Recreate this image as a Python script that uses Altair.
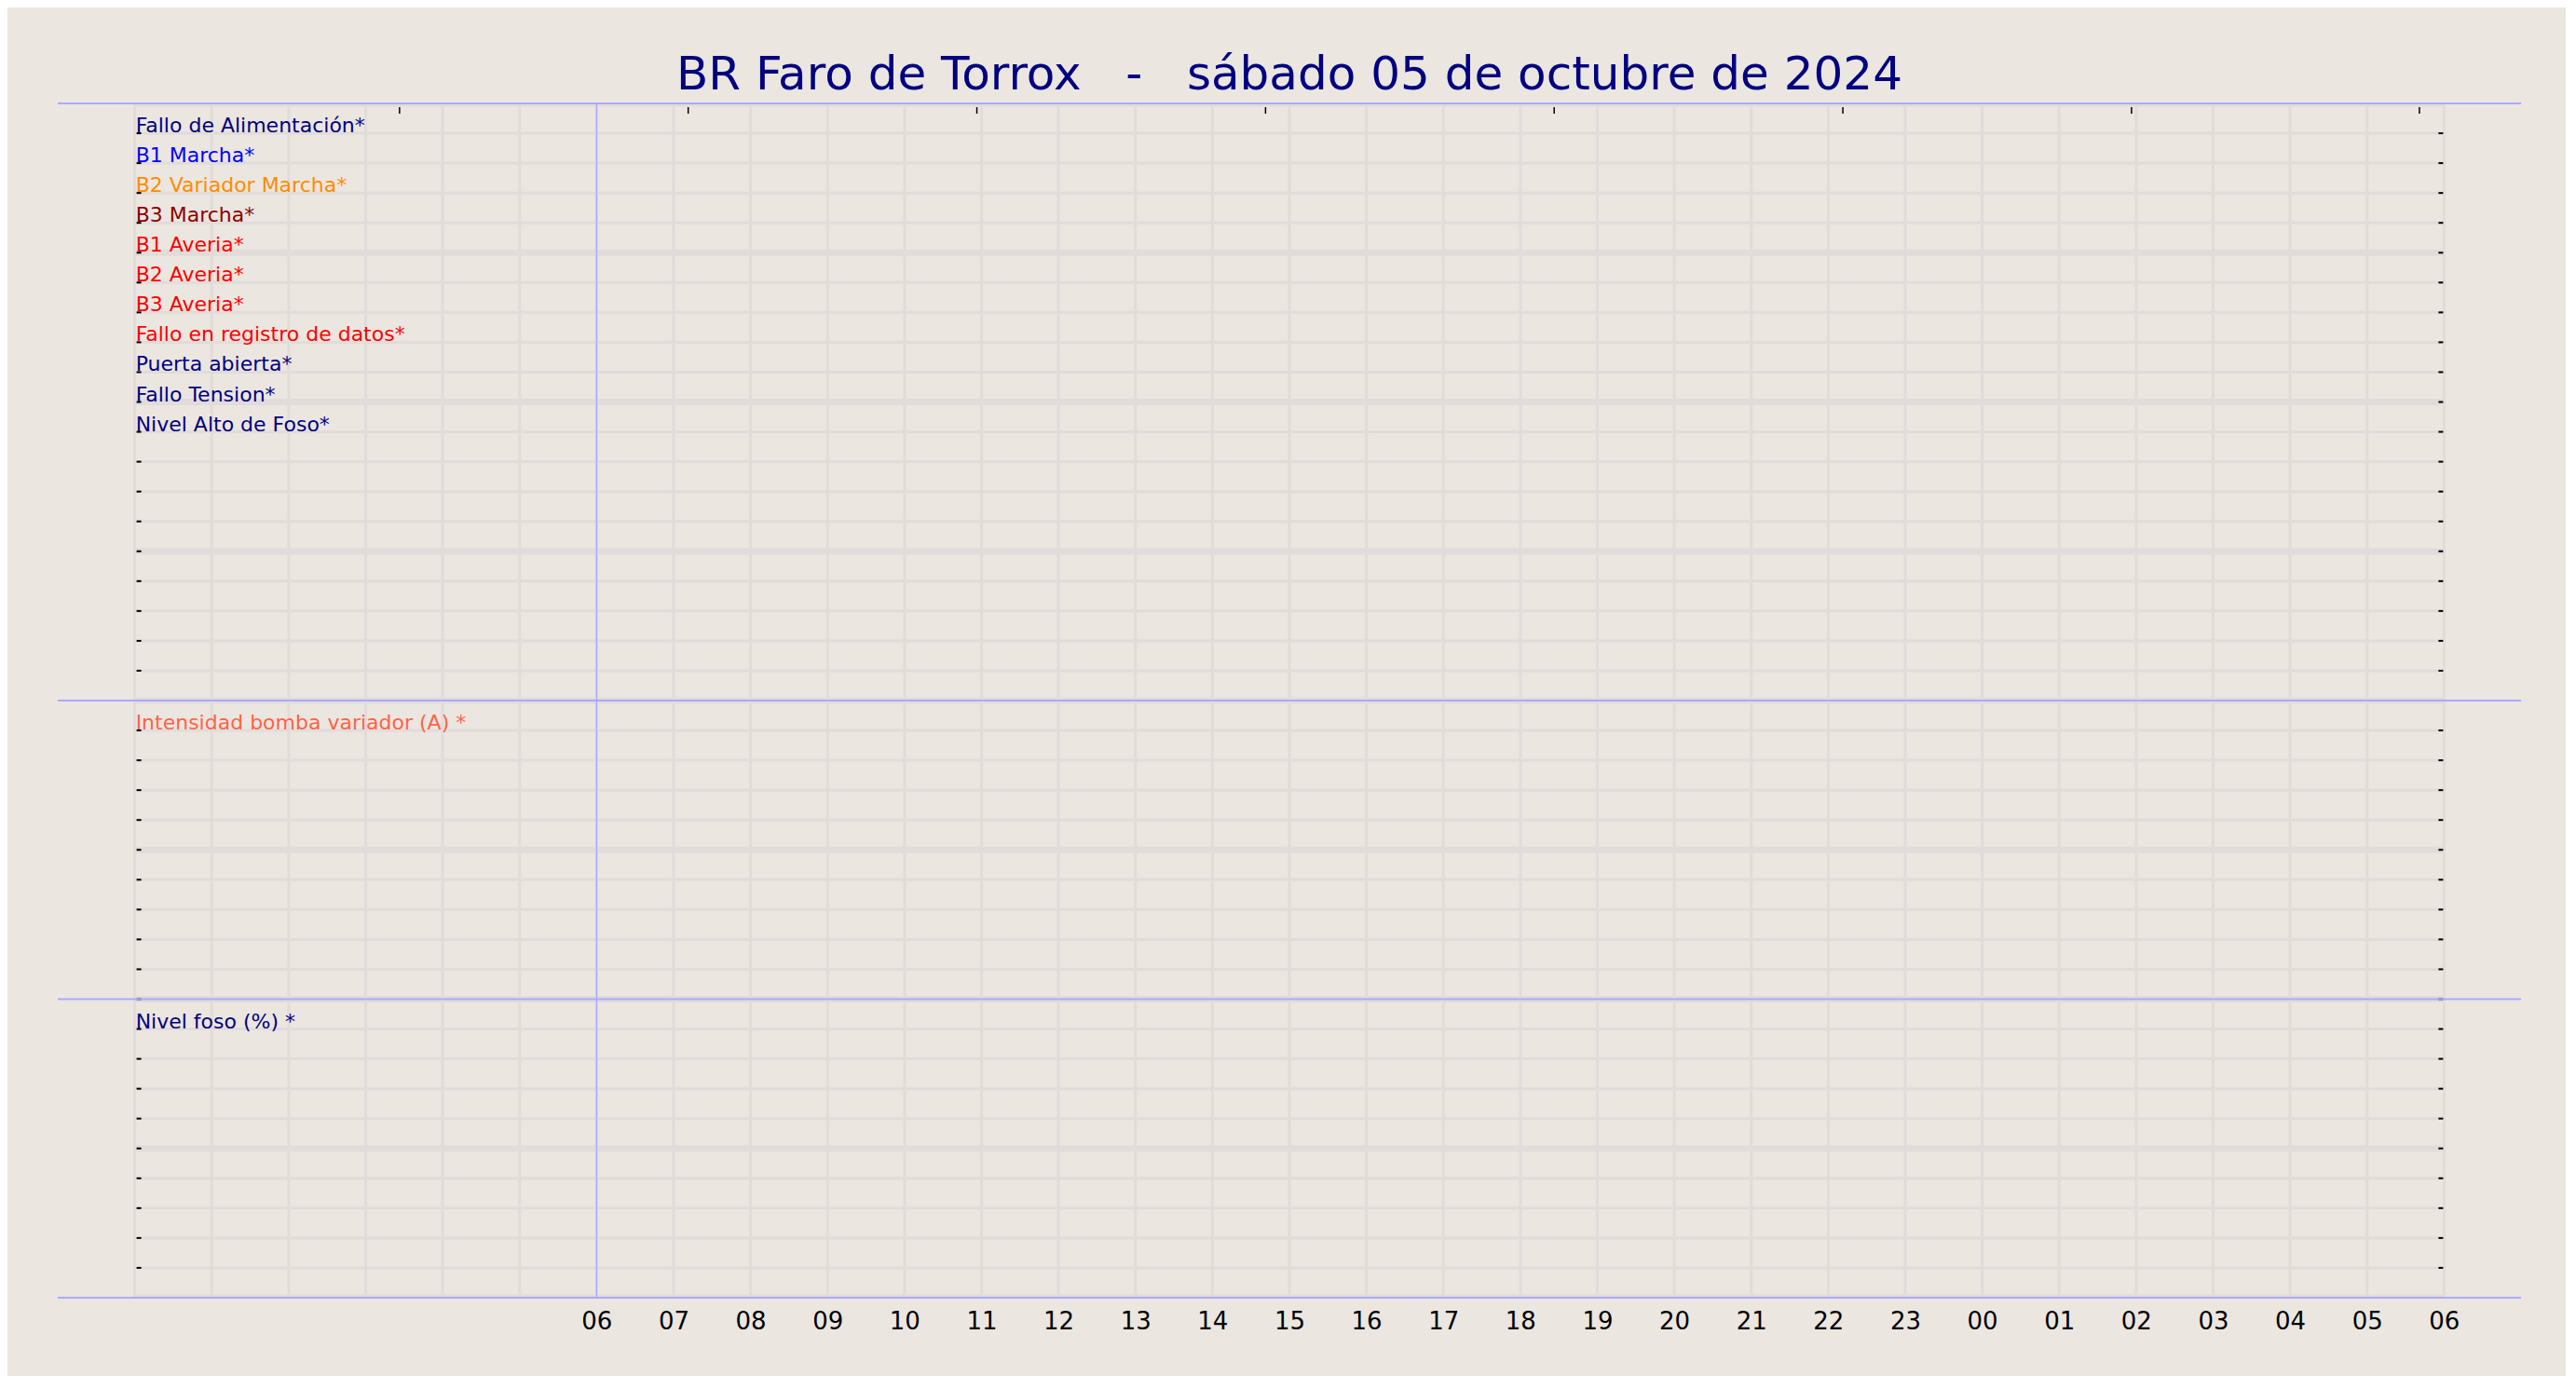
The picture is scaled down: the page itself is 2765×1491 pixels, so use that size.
import altair as alt
import pandas as pd

NB = "\u00a0"
TITLE = "BR Faro de Torrox " + NB + NB + "- " + NB + NB + "sábado 05 de octubre de 2024"

# digital signals (top panel), listed top to bottom
signal_labels = ["Fallo de Alimentación*", "B1 Marcha*", "B2 Variador Marcha*", "B3 Marcha*",
                 "B1 Averia*", "B2 Averia*", "B3 Averia*", "Fallo en registro de datos*",
                 "Puerta abierta*", "Fallo Tension*", "Nivel Alto de Foso*"]
signal_colors = ["navy", "blue", "darkorange", "darkred", "red", "red", "red", "red",
                 "navy", "navy", "navy"]
# analog panels
analog_labels = ["Intensidad bomba variador (A) *", "Nivel foso (%) *"]
analog_colors = ["tomato", "navy"]

# time axis: hours since 00:00 of 05/10/2024
hour_lines = list(range(0, 31))
hour_label_values = list(range(6, 31))
top_tick_hours = [3.44, 7.19, 10.94, 14.69, 18.44, 22.19, 25.94, 29.68]
start_marker_hour = [6]

# panel layout in rows (bottom -> top): panel3 0-10, panel2 10-20, panel1 20-40
panel_bounds = [0, 10, 20, 40]
all_rows = list(range(0, 41))
thick_rows = [r for r in all_rows if r % 5 == 0]
thin_rows = [r for r in all_rows if r % 5 != 0]

BG = "#ebe6e0"
GRID = "#e1dcda"
BLUE = "#aaaaff"
FONT = "DejaVu Sans"
W, H = 2644, 1282

SX = alt.Scale(domain=[-1, 31], nice=False, zero=False)
SY = alt.Scale(domain=[0, 40], nice=False, zero=False)
AX = alt.Axis(values=hour_label_values,
              labelExpr="(datum.value % 24) < 10 ? '0' + (datum.value % 24) : '' + (datum.value % 24)",
              domain=False, ticks=False, tickSize=0, grid=False, title="",
              labelFontSize=26, labelFont=FONT, labelColor="black", labelPadding=12,
              labelOverlap=False, labelFlush=False)


def xf(field):
    return alt.X(field, type="quantitative", scale=SX, axis=AX)


def xd(v):
    return alt.X(datum=v, type="quantitative", scale=SX, axis=AX)


def yf(field):
    return alt.Y(field, type="quantitative", scale=SY, axis=None)


def yd(v):
    return alt.Y(datum=v, type="quantitative", scale=SY, axis=None)


vgrid = alt.Chart(pd.DataFrame({"h": hour_lines})).mark_rule(
    color=GRID, strokeWidth=3).encode(x=xf("h"), y=yd(0), y2=alt.Y2(datum=40))

hthin = alt.Chart(pd.DataFrame({"r": thin_rows})).mark_rule(
    color=GRID, strokeWidth=3, clip=True).encode(x=xd(0), x2=alt.X2(datum=30), y=yf("r"))
hthick = alt.Chart(pd.DataFrame({"r": thick_rows})).mark_rule(
    color=GRID, strokeWidth=7, clip=True).encode(x=xd(0), x2=alt.X2(datum=30), y=yf("r"))

lticks = alt.Chart(pd.DataFrame({"r": all_rows})).mark_rule(
    color="black", strokeWidth=2, xOffset=2, x2Offset=7).encode(
    x=xd(0), x2=alt.X2(datum=0), y=yf("r"))
rticks = alt.Chart(pd.DataFrame({"r": all_rows})).mark_rule(
    color="black", strokeWidth=2, xOffset=-6, x2Offset=-1).encode(
    x=xd(30), x2=alt.X2(datum=30), y=yf("r"))
tticks = alt.Chart(pd.DataFrame({"h": top_tick_hours})).mark_rule(
    color="black", strokeWidth=1.5, yOffset=4, y2Offset=11).encode(
    x=xf("h"), y=yd(40), y2=alt.Y2(datum=40))

bh = alt.Chart(pd.DataFrame({"r": panel_bounds})).mark_rule(
    color=BLUE, strokeWidth=2).encode(x=xd(-1), x2=alt.X2(datum=31), y=yf("r"))
bv = alt.Chart(pd.DataFrame({"h": start_marker_hour})).mark_rule(
    color=BLUE, strokeWidth=1.5).encode(x=xf("h"), y=yd(0), y2=alt.Y2(datum=40))

lab_rows = [39 - i for i in range(len(signal_labels))] + [19, 9]
labels_df = pd.DataFrame({
    "label": signal_labels + analog_labels,
    "color": signal_colors + analog_colors,
    "r": lab_rows,
    "h": [0] * (len(signal_labels) + len(analog_labels)),
})
labels = alt.Chart(labels_df).mark_text(
    align="left", baseline="alphabetic", dx=1, dy=-1, fontSize=22, font=FONT).encode(
    x=xf("h"), y=yf("r"), text="label:N", color=alt.Color("color:N", scale=None))

chart = alt.layer(vgrid, hthin, hthick, lticks, rticks, tticks, bh, bv, labels).properties(
    width=W, height=H,
    title=alt.TitleParams(TITLE, fontSize=50, font=FONT, fontWeight="normal", color="navy",
                          anchor="middle", offset=4),
    autosize=alt.AutoSizeParams(type="none"),
    padding={"left": 54, "top": 103, "right": 48, "bottom": 84},
    background=BG,
).configure_view(stroke="transparent", strokeWidth=0)

chart.save("out.html", embed_options={"renderer": "svg", "actions": False})
